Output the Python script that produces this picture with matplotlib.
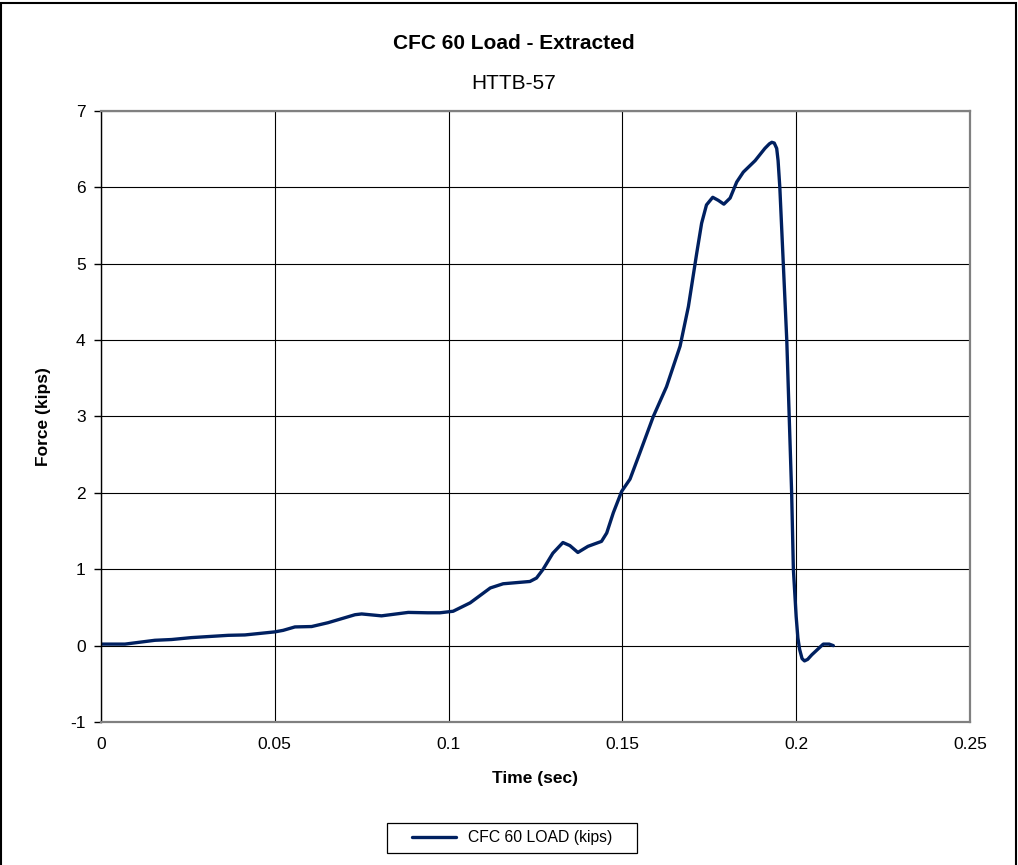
import matplotlib
matplotlib.use("Agg")
import matplotlib.pyplot as plt
from matplotlib.patches import Rectangle

plt.rcParams['font.family'] = ['Liberation Sans', 'DejaVu Sans']
plt.rcParams['axes.unicode_minus'] = False

# CFC 60 filtered load history
time_s = [0.0, 0.0069, 0.0155, 0.0203, 0.026, 0.0366, 0.0414, 0.050, 0.0524,
          0.0558, 0.0606, 0.0653, 0.0731, 0.075, 0.0807, 0.0884, 0.094, 0.0975,
          0.1013, 0.1062, 0.112, 0.1157, 0.1234, 0.1253, 0.1272, 0.130, 0.1329,
          0.1349, 0.1372, 0.1401, 0.144, 0.1455, 0.1474, 0.1498, 0.1522, 0.155,
          0.1589, 0.1627, 0.1666, 0.169, 0.1714, 0.1728, 0.1742, 0.176, 0.1776,
          0.1792, 0.181, 0.1829, 0.1848, 0.1882, 0.191, 0.1923, 0.193, 0.1937,
          0.1944, 0.1948, 0.1953, 0.1963, 0.1973, 0.198, 0.1987, 0.1992, 0.2,
          0.2005, 0.201, 0.2017, 0.2024, 0.2033, 0.2045, 0.2078, 0.2095, 0.2107]
force_kips = [0.02, 0.02, 0.07, 0.08, 0.105, 0.135, 0.14, 0.18, 0.2,
              0.245, 0.25, 0.3, 0.405, 0.415, 0.39, 0.435, 0.43, 0.43,
              0.45, 0.56, 0.755, 0.81, 0.84, 0.885, 1.0, 1.21, 1.35,
              1.31, 1.22, 1.3, 1.365, 1.475, 1.74, 2.02, 2.18, 2.52,
              3.0, 3.39, 3.92, 4.44, 5.14, 5.53, 5.77, 5.87, 5.83,
              5.78, 5.86, 6.07, 6.2, 6.35, 6.51, 6.57, 6.59, 6.58,
              6.51, 6.35, 6.0, 5.0, 4.0, 3.0, 2.0, 1.0, 0.38,
              0.1, -0.05, -0.17, -0.2, -0.18, -0.12, 0.02, 0.02, 0.0]

x_ticks = [0, 0.05, 0.1, 0.15, 0.2, 0.25]
x_tick_labels = ['0', '0.05', '0.1', '0.15', '0.2', '0.25']
y_ticks = [-1, 0, 1, 2, 3, 4, 5, 6, 7]

fig = plt.figure(figsize=(10.18, 8.65), dpi=100)
ax = fig.add_axes([0.0992, 0.1653, 0.8536, 0.7064])

ax.plot(time_s, force_kips, color='#002060', lw=2.4, label='CFC 60 LOAD (kips)',
        solid_joinstyle='round', solid_capstyle='round')

ax.set_xlim(0, 0.25)
ax.set_ylim(-1, 7)
ax.set_xticks(x_ticks)
ax.set_xticklabels(x_tick_labels)
ax.set_yticks(y_ticks)
ax.tick_params(axis='x', length=0, pad=11, labelsize=12.5)
ax.tick_params(axis='y', length=5, width=1, pad=6, labelsize=12.5, direction='out')
ax.grid(True, color='black', lw=0.8)
ax.set_axisbelow(True)

for side in ['top', 'right', 'bottom']:
    ax.spines[side].set_color('#808080')
    ax.spines[side].set_linewidth(1.6)
ax.spines['left'].set_color('black')
ax.spines['left'].set_linewidth(1.0)

ax.set_xlabel('Time (sec)', fontsize=12.5, fontweight='bold', va='center')
ax.set_ylabel('Force (kips)', fontsize=12.5, fontweight='bold', va='center')
ax.xaxis.set_label_coords(0.5, -0.092)
ax.yaxis.set_label_coords(-0.0667, 0.5)

fig.text(0.505, 0.950, 'CFC 60 Load - Extracted', ha='center', va='center',
         fontsize=15, fontweight='bold')
fig.text(0.505, 0.904, 'HTTB-57', ha='center', va='center', fontsize=15)

# legend entry, with its box drawn as a separate frame below the plot
ax.legend(loc='center', bbox_to_anchor=(0.503, 0.0315),
          bbox_transform=fig.transFigure, frameon=False, fontsize=11.3,
          handlelength=2.8, borderpad=0, borderaxespad=0, handletextpad=0.76)
fig.patches.append(Rectangle((0.3802, 0.0139), 0.2456, 0.0347, transform=fig.transFigure,
                             fill=False, edgecolor='black', lw=0.9))

# outer chart border
fig.patches.append(Rectangle((0.001, -0.01), 0.997, 1.007, transform=fig.transFigure,
                             fill=False, edgecolor='black', lw=1.5))

fig.savefig('out.png', dpi=100)
